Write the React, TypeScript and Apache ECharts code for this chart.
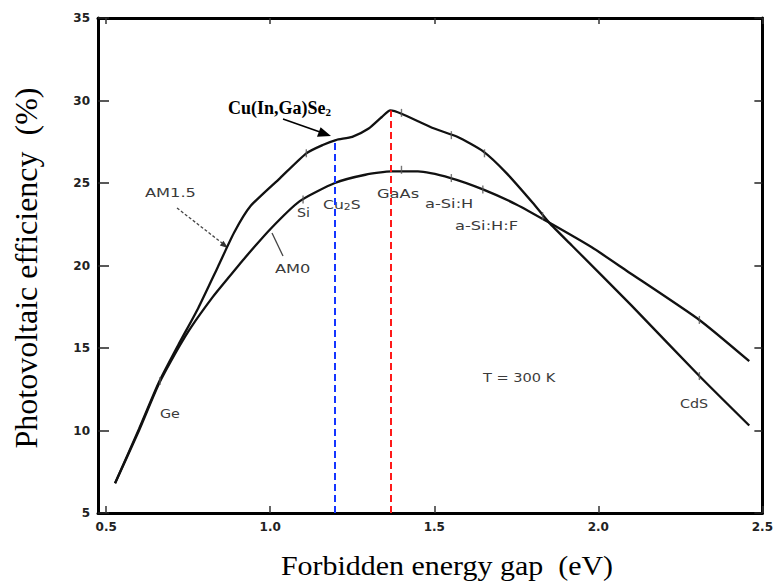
import React, { useEffect, useRef } from "react";
import * as echarts from "echarts";

// Tick values
const gapTicks = [0.5, 1.0, 1.5, 2.0, 2.5];
const effMin = 5;
const effMax = 35;
const effStep = 5;

// AM1.5 curve: [band gap (eV), efficiency (%)]
const am15: number[][] = [
  [0.527, 6.8], [0.60, 10.1], [0.66, 12.9], [0.72, 15.2], [0.78, 17.4],
  [0.84, 19.9], [0.89, 22.0], [0.94, 23.6], [1.03, 25.3], [1.11, 26.8],
  [1.16, 27.3], [1.20, 27.6], [1.25, 27.8], [1.30, 28.3], [1.34, 29.0],
  [1.366, 29.4], [1.40, 29.2], [1.50, 28.3], [1.57, 27.8], [1.65, 26.9],
  [1.72, 25.6], [1.80, 23.8], [1.85, 22.6], [1.92, 21.2], [2.10, 17.6],
  [2.308, 13.3], [2.46, 10.3],
];

// AM0 curve
const am0: number[][] = [
  [0.527, 6.8], [0.60, 10.0], [0.66, 12.8], [0.72, 15.0], [0.76, 16.3],
  [0.825, 18.1], [0.87, 19.2], [0.92, 20.4], [1.0, 22.2], [1.09, 23.9],
  [1.197, 25.0], [1.29, 25.5], [1.37, 25.7], [1.45, 25.7], [1.55, 25.3],
  [1.65, 24.6], [1.75, 23.7], [1.85, 22.6], [1.98, 21.1], [2.085, 19.7],
  [2.308, 16.7], [2.46, 14.2],
];

// Small material markers (error-bar ticks) on the curves
const materialMarks: number[][] = [
  [0.664, 13.0], [1.11, 26.8], [1.40, 29.25], [1.552, 27.9], [1.653, 26.8],
  [1.83, 23.0], [2.308, 13.3], [1.10, 24.0], [1.40, 25.8], [1.552, 25.3],
  [1.648, 24.6], [2.308, 16.7],
];

// Guide lines: CIGS gap (blue) and optimum / GaAs (red)
const guideGaps = [1.197, 1.366];
const guideTops = [27.6, 29.4];
const guideColors = ["#1535ff", "#ff1a1a"];

export default function App() {
  const ref = useRef<HTMLDivElement>(null);

  useEffect(() => {
    if (!ref.current) return;
    const chart = echarts.init(ref.current, null, { renderer: "svg" });

    const labelFont = {
      fontFamily: "DejaVu Sans",
      fontWeight: "bold" as const,
      fontSize: 12,
      color: "#222",
    };
    const annColor = "#3a3a3a";
    const ann = (text: string, x: number, y: number, sx = 1.25) => ({
      type: "text",
      x,
      y,
      scaleX: sx,
      style: {
        text,
        fill: annColor,
        font: "13px 'DejaVu Sans'",
        align: "left",
        verticalAlign: "middle",
      },
    });

    const option: any = {
      animation: false,
      backgroundColor: "#ffffff",
      grid: { left: 98, right: 13, top: 18, bottom: 72 },
      xAxis: [
        {
          type: "value",
          min: 0.475,
          max: 2.5,
          position: "bottom",
          axisLine: { show: true, onZero: false, lineStyle: { color: "#000", width: 3 } },
          axisTick: {
            show: true,
            inside: true,
            length: 7,
            customValues: gapTicks,
            lineStyle: { color: "#333", width: 1.5 },
          },
          axisLabel: {
            show: true,
            customValues: gapTicks,
            formatter: (v: number) => v.toFixed(1),
            margin: 8,
            ...labelFont,
          },
          splitLine: { show: false },
        },
        {
          type: "value",
          min: 0.475,
          max: 2.5,
          position: "top",
          axisLine: { show: true, onZero: false, lineStyle: { color: "#000", width: 3 } },
          axisTick: {
            show: true,
            inside: true,
            length: 6,
            customValues: gapTicks,
            lineStyle: { color: "#333", width: 1.5 },
          },
          axisLabel: { show: false },
          splitLine: { show: false },
        },
      ],
      yAxis: [
        {
          type: "value",
          min: effMin,
          max: effMax,
          interval: effStep,
          position: "left",
          axisLine: { show: true, onZero: false, lineStyle: { color: "#000", width: 3 } },
          axisTick: { show: true, inside: true, length: 11, lineStyle: { color: "#222", width: 1.5 } },
          axisLabel: { show: true, margin: 8, ...labelFont },
          splitLine: { show: false },
        },
        {
          type: "value",
          min: effMin,
          max: effMax,
          interval: effStep,
          position: "right",
          axisLine: { show: true, onZero: false, lineStyle: { color: "#000", width: 3 } },
          axisTick: { show: true, inside: true, length: 8, lineStyle: { color: "#222", width: 1.5 } },
          axisLabel: { show: false },
          splitLine: { show: false },
        },
      ],
      series: [
        {
          name: "AM1.5",
          type: "line",
          xAxisIndex: 0,
          yAxisIndex: 0,
          data: am15,
          smooth: 0.2,
          showSymbol: false,
          lineStyle: { color: "#111", width: 2.3 },
          z: 3,
          markLine: {
            silent: true,
            symbol: ["none", "none"],
            label: { show: false },
            data: guideGaps.map((g, i) => [
              { coord: [g, effMin], lineStyle: { color: guideColors[i], type: [7, 4], width: 2 } },
              { coord: [g, guideTops[i]] },
            ]),
          },
        },
        {
          name: "AM0",
          type: "line",
          xAxisIndex: 0,
          yAxisIndex: 0,
          data: am0,
          smooth: 0.2,
          showSymbol: false,
          lineStyle: { color: "#111", width: 2.3 },
          z: 3,
        },
        {
          name: "marks",
          type: "scatter",
          data: materialMarks,
          symbol: "rect",
          symbolSize: [1.4, 8],
          itemStyle: { color: "#555" },
          silent: true,
          z: 4,
        },
      ],
      graphic: [
        // axis titles
        {
          type: "text",
          x: 26,
          y: 268,
          rotation: Math.PI / 2,
          style: {
            text: "Photovoltaic efficiency  (%)",
            fill: "#000",
            font: "32px 'Liberation Serif'",
            align: "center",
            verticalAlign: "middle",
          },
        },
        {
          type: "text",
          x: 447,
          y: 565,
          scaleX: 1.07,
          style: {
            text: "Forbidden energy gap  (eV)",
            fill: "#000",
            font: "28px 'Liberation Serif'",
            align: "center",
            verticalAlign: "middle",
          },
        },
        // Cu(In,Ga)Se2 annotation
        {
          type: "text",
          x: 228,
          y: 108,
          style: {
            text: "{b|Cu(In,Ga)Se}{s|2}",
            align: "left",
            verticalAlign: "middle",
            rich: {
              b: { font: "bold 18px 'Liberation Serif'", fill: "#000" },
              s: { font: "bold 11px 'Liberation Serif'", fill: "#000", padding: [8, 0, 0, 0] },
            },
          },
        },
        { type: "line", shape: { x1: 283, y1: 119, x2: 320, y2: 132 }, style: { stroke: "#000", lineWidth: 1.6 } },
        { type: "polygon", shape: { points: [[331, 136], [317, 136.8], [320.6, 127.2]] }, style: { fill: "#000" } },
        // AM1.5 label with dashed pointer
        ann("AM1.5", 145, 192),
        { type: "line", shape: { x1: 177, y1: 208, x2: 222, y2: 243 }, style: { stroke: "#444", lineWidth: 1.3, lineDash: [3, 2] } },
        { type: "polygon", shape: { points: [[228, 248], [219.8, 245.5], [223.5, 240.7]] }, style: { fill: "#333" } },
        // AM0 label with pointer
        ann("AM0", 275, 268),
        { type: "line", shape: { x1: 283, y1: 256, x2: 272, y2: 233 }, style: { stroke: "#444", lineWidth: 1.3 } },
        // material labels
        ann("Si", 297, 212, 1.1),
        {
          type: "text",
          x: 323,
          y: 204,
          scaleX: 1.2,
          style: {
            text: "{n|Cu}{s|2}{n|S}",
            align: "left",
            verticalAlign: "middle",
            rich: {
              n: { font: "13px 'DejaVu Sans'", fill: annColor },
              s: { font: "9px 'DejaVu Sans'", fill: annColor, padding: [5, 0, 0, 0] },
            },
          },
        },
        ann("GaAs", 377, 193, 1.25),
        ann("a-Si:H", 425, 203, 1.25),
        ann("a-Si:H:F", 455, 225, 1.25),
        ann("T = 300 K", 483, 377, 1.12),
        ann("CdS", 680, 403, 1.1),
        ann("Ge", 160, 413, 1.1),
      ],
    };

    chart.setOption(option);
    return () => chart.dispose();
  }, []);

  return (
    <div
      ref={ref}
      style={{ position: "fixed", left: 0, top: 0, width: 776, height: 585, background: "#fff" }}
    />
  );
}
